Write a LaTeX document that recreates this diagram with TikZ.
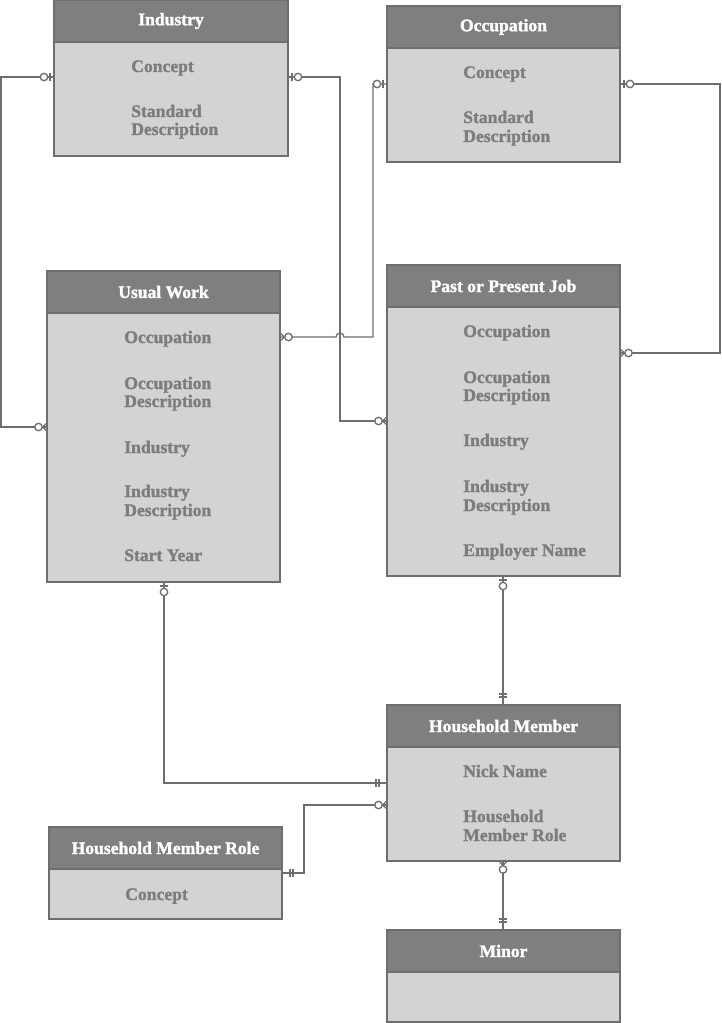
\documentclass[tikz,border=0pt]{standalone}
\usepackage{fontspec}
\setmainfont{Liberation Serif}[BoldFeatures={FakeBold=1.6}]
\usetikzlibrary{calc}
\definecolor{headgray}{HTML}{7F7F7F}
\definecolor{bodygray}{HTML}{D3D3D3}
\definecolor{linegray}{HTML}{6E6E6E}
\definecolor{textgray}{HTML}{7D7D7D}
\tikzset{
  ebody/.style={draw=linegray, fill=bodygray, line width=1.1pt, anchor=north west, inner sep=0pt, outer sep=0pt},
  ehead/.style={draw=linegray, fill=headgray, line width=1.1pt, anchor=north west, inner sep=0pt, outer sep=0pt,
    minimum height=31.5pt, text=white, font=\fontsize{13.2}{15}\selectfont\bfseries},
  attr/.style={anchor=base west, inner sep=0pt, text=textgray, font=\fontsize{13.2}{15}\selectfont\bfseries},
  conn/.style={draw=linegray, line width=1pt},
  mk/.style={draw=linegray, line width=1pt},
  pics/zo/.style={code={
    \draw[mk] (4,-4) -- (4,4);
    \draw[mk, fill=white] (10,0) circle[radius=2.8pt];
  }},
  pics/zm/.style={code={
    \draw[mk] (0,-4) -- (4.5,0) -- (0,4);
    \draw[mk, fill=white] (8.5,0) circle[radius=2.8pt];
  }},
  pics/oo/.style={code={
    \draw[mk] (8,-4) -- (8,4);
    \draw[mk] (11,-4) -- (11,4);
  }},
}
\newcommand\entity[6]{%
  \node[ebody, minimum width={(#4-#2)*0.75pt}, minimum height={(#5-#3)*0.75pt}] (#1) at (#2,#3) {};
  \node[ehead, minimum width={(#4-#2)*0.75pt}] (#1-h) at (#2,#3) {#6};
}
\begin{document}
\begin{tikzpicture}[x=0.75pt, y=-0.75pt]
\useasboundingbox (0,0) rectangle (721,1023);

% entities
\entity{ind}{54}{0}{288}{156}{Industry}
\entity{occ}{387}{6}{620}{162}{Occupation}
\entity{uw}{47}{271}{280}{582}{Usual Work}
\entity{ppj}{387}{265}{620}{576}{Past or Present Job}
\entity{hm}{387}{705}{620}{861}{Household Member}
\entity{hmr}{49}{827}{282}{919}{Household Member Role}
\entity{minor}{387}{930}{620}{1022}{Minor}

% attributes
\node[attr] (ind-a1) at (131,72) {Concept};
\node[attr] (ind-a2) at (131,117) {Standard};
\node[attr] (ind-a3) at (131,135) {Description};

\node[attr] (occ-a1) at (463,78) {Concept};
\node[attr] (occ-a2) at (463,123) {Standard};
\node[attr] (occ-a3) at (463,142) {Description};

\node[attr] (uw-a1) at (124,343) {Occupation};
\node[attr] (uw-a2) at (124,389) {Occupation};
\node[attr] (uw-a3) at (124,407) {Description};
\node[attr] (uw-a4) at (124,453) {Industry};
\node[attr] (uw-a5) at (124,497) {Industry};
\node[attr] (uw-a6) at (124,516) {Description};
\node[attr] (uw-a7) at (124,561) {Start Year};

\node[attr] (ppj-a1) at (463,337) {Occupation};
\node[attr] (ppj-a2) at (463,383) {Occupation};
\node[attr] (ppj-a3) at (463,401) {Description};
\node[attr] (ppj-a4) at (463,446) {Industry};
\node[attr] (ppj-a5) at (463,492) {Industry};
\node[attr] (ppj-a6) at (463,511) {Description};
\node[attr] (ppj-a7) at (463,556) {Employer Name};

\node[attr] (hm-a1) at (463,777) {Nick Name};
\node[attr] (hm-a2) at (463,822) {Household};
\node[attr] (hm-a3) at (463,841) {Member Role};

\node[attr] (hmr-a1) at (125,900) {Concept};

% connectors
% a: Industry -> Usual Work
\draw[conn] ($(ind.north west)+(0,77)$) -- ++(-53,0) |- ($(uw.north west)+(0,156)$);
\pic[rotate=180] at ($(ind.north west)+(0,77)$) {zo};
\pic[rotate=180] at ($(uw.north west)+(0,156)$) {zm};

% b: Industry -> Past or Present Job
\draw[conn] ($(ind.north east)+(0,77)$) -- ++(52,0) |- ($(ppj.north west)+(0,156)$);
\pic at ($(ind.north east)+(0,77)$) {zo};
\pic[rotate=180] at ($(ppj.north west)+(0,156)$) {zm};

% c: Occupation -> Usual Work (with hop)
\draw[conn] ($(occ.north west)+(0,78)$) -- ++(-14,0) -- ($(uw.north east)+(93,66)$)
  -- ($(uw.north east)+(64,66)$) arc[start angle=0, end angle=180, radius=3pt]
  -- ($(uw.north east)+(0,66)$);
\pic[rotate=180] at ($(occ.north west)+(0,78)$) {zo};
\pic at ($(uw.north east)+(0,66)$) {zm};

% d: Occupation -> Past or Present Job
\draw[conn] ($(occ.north east)+(0,78)$) -- ++(100,0) |- ($(ppj.north east)+(0,88)$);
\pic at ($(occ.north east)+(0,78)$) {zo};
\pic at ($(ppj.north east)+(0,88)$) {zm};

% e: Usual Work -> Household Member
\draw[conn] ($(uw.south west)+(117,0)$) |- ($(hm.north west)+(0,78)$);
\pic[rotate=-90] at ($(uw.south west)+(117,0)$) {zo};
\pic[rotate=180] at ($(hm.north west)+(0,78)$) {oo};

% f: Past or Present Job -> Household Member
\draw[conn] ($(ppj.south west)+(116,0)$) -- ($(hm.north west)+(116,0)$);
\pic[rotate=-90] at ($(ppj.south west)+(116,0)$) {zo};
\pic[rotate=90] at ($(hm.north west)+(116,0)$) {oo};

% g: Household Member -> Household Member Role
\draw[conn] ($(hm.north west)+(0,100)$) -- ++(-83,0) |- ($(hmr.north east)+(0,46)$);
\pic[rotate=180] at ($(hm.north west)+(0,100)$) {zm};
\pic at ($(hmr.north east)+(0,46)$) {oo};

% h: Household Member -> Minor
\draw[conn] ($(hm.south west)+(116,0)$) -- ($(minor.north west)+(116,0)$);
\pic[rotate=-90] at ($(hm.south west)+(116,0)$) {zm};
\pic[rotate=90] at ($(minor.north west)+(116,0)$) {oo};
\end{tikzpicture}
\end{document}
